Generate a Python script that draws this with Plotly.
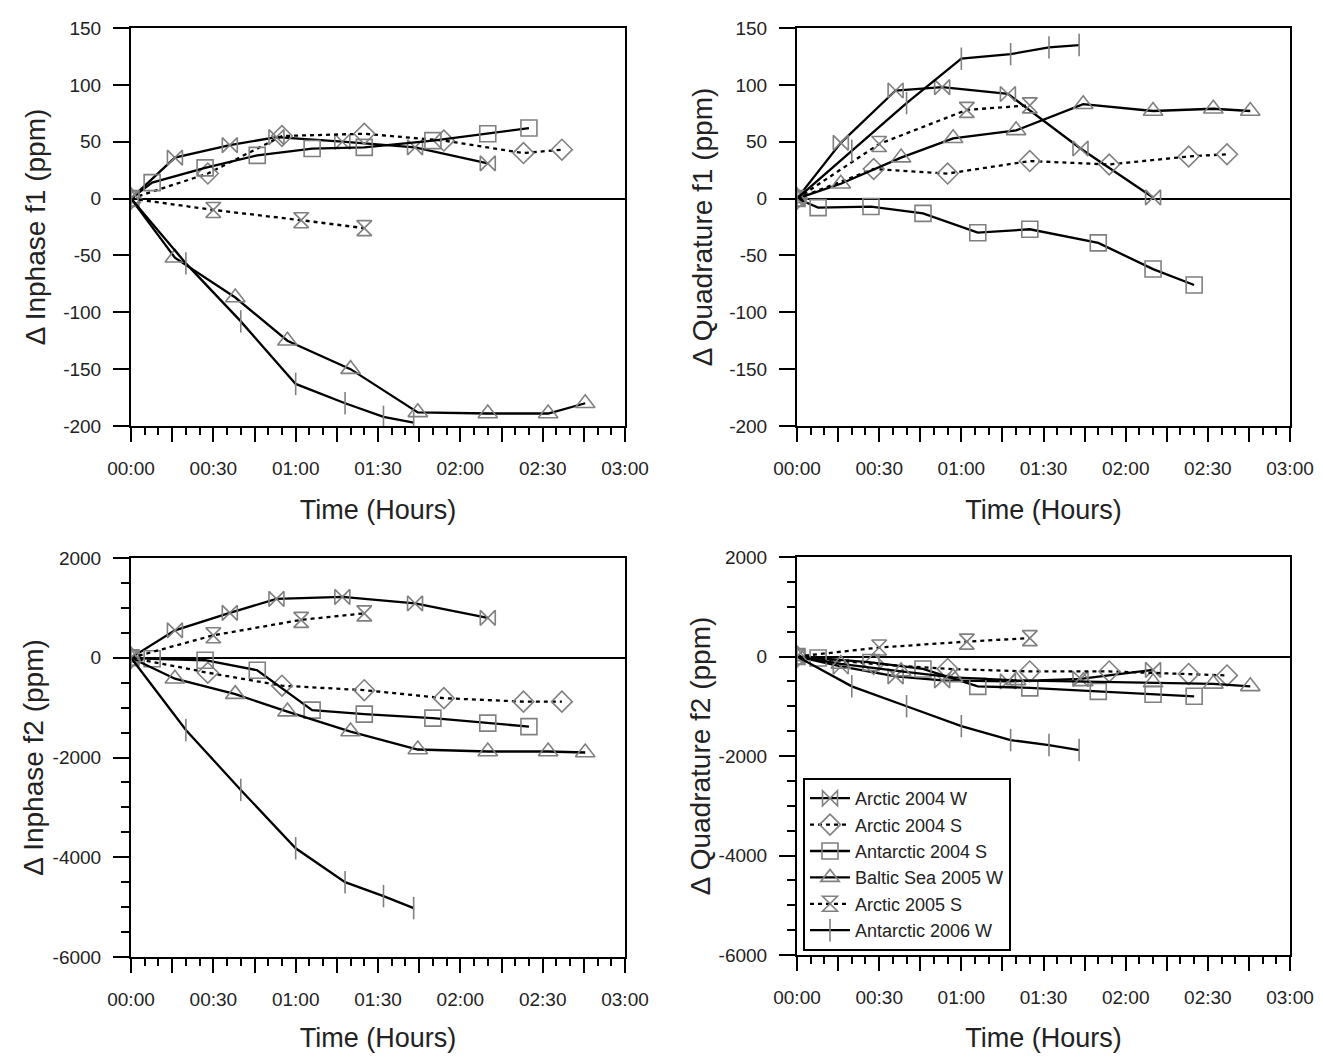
import plotly.graph_objects as go

# the page body has an 8 px margin, so the figure is drawn 8 px smaller and
# all pixel boxes are measured relative to that offset
OFF = 8
W, H = 1323 - 2 * OFF, 1061 - 2 * OFF

# ---------------- data (time in minutes since start) ----------------
series_names = ["Arctic 2004 W", "Arctic 2004 S", "Antarctic 2004 S",
                "Baltic Sea 2005 W", "Arctic 2005 S", "Antarctic 2006 W"]

t_arctic04w = [0, 16, 36, 53, 77, 103.5, 130]
t_arctic04s = [0, 28, 55, 85, 114, 143, 157]
t_antarc04s = [0, 7.7, 27, 46, 66, 85, 110, 130, 145]
t_baltic05w = [0, 16, 38, 57, 80, 104.5, 130, 152, 165.5]
t_arctic05s = [0, 30, 62, 85]
t_antarc06w = [0, 20, 40, 60, 78, 92, 103]

# Delta Inphase f1 (ppm)
ip1_arctic04w = [0, 36, 47, 54, 50, 45, 31]
ip1_arctic04s = [0, 22, 55, 57, 51, 40, 43]
ip1_antarc04s = [0, 14, 27, 38, 44, 45, 51, 57, 62]
ip1_baltic05w = [0, -52, -87, -125, -150, -188, -189, -189, -180]
ip1_arctic05s = [0, -10, -19, -26]
ip1_antarc06w = [0, -57, -108, -163, -180, -192, -197]

# Delta Quadrature f1 (ppm)
qd1_arctic04w = [0, 49, 95, 98, 92, 44, 1]
qd1_arctic04s = [0, 26, 22, 33, 30, 37, 39]
qd1_antarc04s = [0, -8, -7, -13, -30, -27, -39, -62, -76]
qd1_baltic05w = [0, 13, 36, 53, 60, 83, 77, 79, 77]
qd1_arctic05s = [0, 48, 78, 82]
qd1_antarc06w = [0, 42, 84, 123, 127, 133, 135]

# Delta Inphase f2 (ppm)
ip2_arctic04w = [0, 550, 900, 1180, 1220, 1090, 800]
ip2_arctic04s = [0, -300, -560, -650, -810, -880, -880]
ip2_antarc04s = [0, -20, -50, -250, -1050, -1130, -1210, -1310, -1380]
ip2_baltic05w = [0, -420, -730, -1080, -1480, -1840, -1880, -1880, -1900]
ip2_arctic05s = [0, 450, 760, 890]
ip2_antarc06w = [0, -1450, -2650, -3820, -4500, -4780, -5020]

# Delta Quadrature f2 (ppm)
qd2_arctic04w = [0, -200, -400, -480, -500, -450, -270]
qd2_arctic04s = [0, -150, -250, -300, -300, -350, -380]
qd2_antarc04s = [0, -30, -120, -250, -600, -630, -700, -760, -800]
qd2_baltic05w = [0, -150, -300, -420, -480, -500, -520, -550, -600]
qd2_arctic05s = [0, 180, 300, 370]
qd2_antarc06w = [0, -600, -1000, -1400, -1680, -1780, -1880]

x_tick_vals = [0, 15, 30, 45, 60, 75, 90, 105, 120, 135, 150, 165, 180]
x_tick_text = ["00:00", "", "00:30", "", "01:00", "", "01:30", "", "02:00", "", "02:30", "", "03:00"]
x_minor_vals = [v for v in range(0, 181, 5) if v % 15 != 0]

y1_tick_vals = [-200, -150, -100, -50, 0, 50, 100, 150]
y1_tick_text = ["-200", "-150", "-100", "-50", "0", "50", "100", "150"]
y2_tick_vals = [-6000, -4000, -2000, 0, 2000]
y2_tick_text = ["-6000", "-4000", "-2000", "0", "2000"]

y_titles = ["\u0394 Inphase f1 (ppm)", "\u0394 Quadrature f1 (ppm)",
            "\u0394 Inphase f2 (ppm)", "\u0394 Quadrature f2 (ppm)"]
x_title = "Time (Hours)"

# ---------------- styles ----------------
times = [t_arctic04w, t_arctic04s, t_antarc04s, t_baltic05w, t_arctic05s, t_antarc06w]
panels = [
    [ip1_arctic04w, ip1_arctic04s, ip1_antarc04s, ip1_baltic05w, ip1_arctic05s, ip1_antarc06w],
    [qd1_arctic04w, qd1_arctic04s, qd1_antarc04s, qd1_baltic05w, qd1_arctic05s, qd1_antarc06w],
    [ip2_arctic04w, ip2_arctic04s, ip2_antarc04s, ip2_baltic05w, ip2_arctic05s, ip2_antarc06w],
    [qd2_arctic04w, qd2_arctic04s, qd2_antarc04s, qd2_baltic05w, qd2_arctic05s, qd2_antarc06w],
]
symbols = ["bowtie-open", "diamond-open", "square-open", "triangle-up-open",
           "hourglass-open", "line-ns-open"]
dashes = ["solid", "4px,4px", "solid", "solid", "4px,4px", "solid"]
msizes = [15, 16, 16, 17, 15, 16]

FONT = "Liberation Sans, Arial, sans-serif"
INK = "#222222"
TICK_SIZE = 19
XTITLE_SIZE = 27
YTITLE_SIZE = 28

fig = go.Figure()

# plot-area pixel boxes in window coordinates (left, right, top, bottom)
boxes = [(131, 625, 28, 426), (797, 1290, 28, 426),
         (131, 625, 558, 957), (797, 1290, 557, 955)]
y_ranges = [[-200, 150], [-200, 150], [-6000, 2000], [-6000, 2000]]
y_tvals = [y1_tick_vals, y1_tick_vals, y2_tick_vals, y2_tick_vals]
y_ttext = [y1_tick_text, y1_tick_text, y2_tick_text, y2_tick_text]
y_standoffs = [9, 8, 1, 0]

for p in range(4):
    xa = "x" if p == 0 else f"x{p+1}"
    ya = "y" if p == 0 else f"y{p+1}"
    for s in range(6):
        fig.add_trace(go.Scatter(
            x=times[s], y=panels[p][s], xaxis=xa, yaxis=ya,
            mode="lines+markers", name=series_names[s],
            legendgroup=series_names[s], showlegend=(p == 3),
            line=dict(color="black", width=2.3, dash=dashes[s]),
            marker=dict(symbol=symbols[s], size=msizes[s], color="#808080",
                        line=dict(color="#808080", width=1.6)),
        ))

layout = dict(
    width=W, height=H, paper_bgcolor="white", plot_bgcolor="white",
    margin=dict(l=0, r=0, t=0, b=0),
    font=dict(family=FONT, color=INK, size=TICK_SIZE),
    legend=dict(x=(803 - OFF) / W, y=1 - (778 - OFF) / H, xanchor="left", yanchor="top",
                bordercolor="black", borderwidth=2, bgcolor="white",
                font=dict(size=18, family=FONT, color=INK),
                tracegroupgap=0, itemwidth=40),
)

for p in range(4):
    x0, x1, y0, y1 = [v - OFF for v in boxes[p]]
    xkey = "xaxis" if p == 0 else f"xaxis{p+1}"
    ykey = "yaxis" if p == 0 else f"yaxis{p+1}"
    yref = "y" if p == 0 else f"y{p+1}"
    xref = "x" if p == 0 else f"x{p+1}"
    layout[xkey] = dict(
        domain=[x0 / W, x1 / W], anchor=yref, range=[0, 180],
        showline=True, linecolor="black", linewidth=2, mirror=True,
        showgrid=False, zeroline=False, automargin=False,
        tickmode="array", tickvals=x_tick_vals, ticktext=x_tick_text,
        ticks="outside", ticklen=14, tickwidth=2, tickcolor="black",
        ticklabelstandoff=10,
        minor=dict(tickmode="array", tickvals=x_minor_vals, ticks="outside",
                   ticklen=7, tickwidth=2, tickcolor="black", showgrid=False),
        tickfont=dict(size=TICK_SIZE, family=FONT, color=INK),
        title=dict(text=x_title, font=dict(size=XTITLE_SIZE, family=FONT, color=INK), standoff=22),
    )
    layout[ykey] = dict(
        domain=[1 - y1 / H, 1 - y0 / H], anchor=xref, range=y_ranges[p],
        showline=True, linecolor="black", linewidth=2, mirror=True,
        showgrid=False, zeroline=True, zerolinecolor="black", zerolinewidth=2,
        automargin=False,
        tickmode="array", tickvals=y_tvals[p], ticktext=y_ttext[p],
        ticks="outside", ticklen=16, tickwidth=2, tickcolor="black",
        ticklabelstandoff=8,
        tickfont=dict(size=TICK_SIZE, family=FONT, color=INK),
        title=dict(text=y_titles[p], font=dict(size=YTITLE_SIZE, family=FONT, color=INK),
                   standoff=y_standoffs[p]),
    )
    if p >= 2:
        layout[ykey]["minor"] = dict(tickmode="array",
                                     tickvals=[v for v in range(-6000, 2001, 500) if v % 2000 != 0],
                                     ticks="outside", ticklen=8,
                                     tickwidth=2, tickcolor="black", showgrid=False)

fig.update_layout(**layout)
fig.write_html("out.html")
